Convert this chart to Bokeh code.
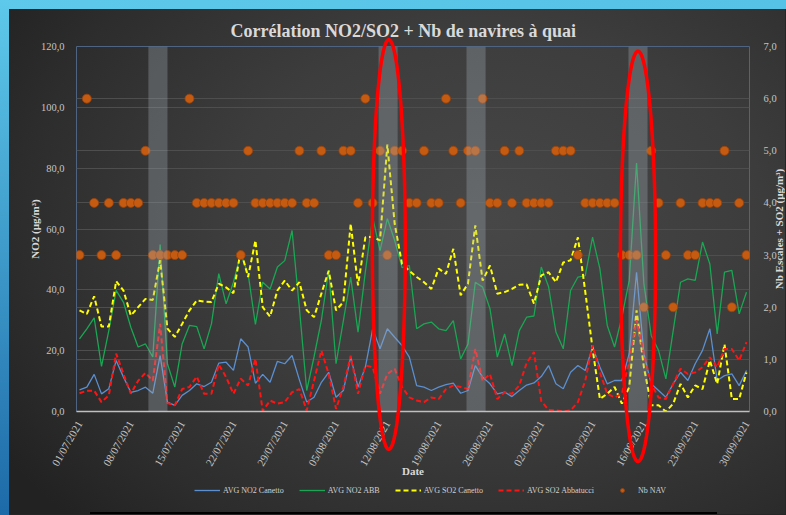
import numpy as np
from math import pi
from bokeh.plotting import figure
from bokeh.models import (Range1d, LinearAxis, FixedTicker, Grid, Legend, LegendItem,
                          PolyAnnotation, ColumnDataSource)
from bokeh.core.properties import value
from bokeh.embed import file_html
from bokeh.resources import INLINE

# ---------------- data ----------------
tick_labels = ["01/07/2021", "08/07/2021", "15/07/2021", "22/07/2021", "29/07/2021",
               "05/08/2021", "12/08/2021", "19/08/2021", "26/08/2021", "02/09/2021",
               "09/09/2021", "16/09/2021", "23/09/2021", "30/09/2021"]
day = list(range(92))  # 01/07/2021 .. 30/09/2021

no2_canetto = [7.1, 8.0, 12.2, 5.8, 7.5, 16.8, 11.3, 6.3, 6.9, 8.0,
               6.0, 18.4, 3.1, 2.0, 5.3, 6.9, 9.1, 8.2, 9.6, 15.9,
               16.2, 13.5, 23.9, 21.2, 9.3, 12.2, 9.6, 16.5, 15.7, 18.4,
               10.4, 3.1, 4.7, 9.6, 12.9, 4.7, 6.9, 17.9, 8.0, 14.6,
               27.2, 20.6, 27.2, 24.4, 21.7, 17.9, 8.5, 8.0, 6.9, 8.0,
               8.8, 9.3, 6.0, 6.9, 15.1, 11.3, 9.1, 5.8, 6.4, 4.9,
               6.9, 8.7, 9.4, 11.5, 15.1, 9.1, 7.5, 12.9, 15.1, 13.5,
               21.2, 14.6, 9.1, 10.2, 10.2, 19.0, 45.8, 19.0, 9.1, 6.9,
               4.7, 9.1, 12.9, 10.2, 15.7, 20.1, 27.2, 10.2, 11.8, 12.4,
               8.5, 13.5]

no2_abb = [23.9, 27.2, 30.8, 14.8, 26.6, 39.8, 35.9, 27.7, 21.2, 22.2,
           17.9, 54.9, 15.7, 8.0, 22.2, 28.3, 27.9, 20.6, 28.8, 45.3,
           35.4, 42.5, 51.8, 45.3, 28.6, 42.5, 40.3, 47.5, 49.6, 59.5,
           34.0, 6.9, 18.0, 30.0, 46.4, 15.7, 29.9, 44.2, 26.1, 46.0,
           63.8, 52.9, 63.4, 56.2, 47.3, 48.0, 27.2, 28.8, 29.4, 27.2,
           26.6, 29.9, 17.3, 22.2, 42.5, 40.9, 33.8, 17.9, 25.5, 15.1,
           26.6, 31.0, 31.4, 47.5, 41.0, 26.1, 20.6, 39.8, 44.2, 44.7,
           57.3, 46.9, 28.3, 21.2, 31.0, 43.1, 81.7, 42.0, 25.0, 20.1,
           10.7, 26.6, 42.5, 43.6, 43.1, 55.7, 48.5, 25.5, 45.8, 46.4,
           32.1, 39.2]

so2_canetto = [1.94, 1.87, 2.21, 1.63, 1.63, 2.50, 2.32, 1.84, 2.00, 2.16,
               2.14, 2.90, 1.59, 1.43, 1.68, 1.94, 2.13, 2.11, 2.10, 2.45,
               2.38, 2.27, 3.09, 2.58, 3.28, 2.00, 1.82, 2.32, 2.51, 2.32,
               2.48, 1.94, 1.81, 2.26, 2.70, 1.94, 2.10, 3.60, 2.42, 3.34,
               3.35, 3.28, 5.12, 3.60, 2.83, 2.70, 2.58, 2.48, 2.35, 2.74,
               2.64, 3.12, 2.23, 2.45, 3.57, 2.51, 2.80, 2.26, 2.29, 2.35,
               2.43, 2.44, 2.07, 2.61, 2.67, 2.48, 2.86, 2.90, 3.34, 2.30,
               1.20, 0.24, 0.34, 0.47, 0.15, 0.47, 1.94, 0.85, 0.12, 0.12,
               0.00, 0.15, 0.53, 0.27, 0.50, 0.43, 0.98, 0.53, 1.29, 0.24,
               0.24, 0.75]

so2_abbatucci = [0.35, 0.40, 0.40, 0.18, 0.31, 1.11, 0.72, 0.34, 0.59, 0.74,
                 0.59, 1.68, 0.16, 0.12, 0.43, 0.47, 0.67, 0.34, 0.34, 0.90,
                 0.66, 0.34, 0.63, 0.50, 1.01, 0.01, 0.21, 0.15, 0.18, 0.37,
                 0.43, 0.02, 0.59, 1.17, 0.72, 0.05, 0.47, 1.07, 0.34, 0.88,
                 0.85, 0.34, 0.72, 0.82, 0.47, 0.27, 0.21, 0.18, 0.27, 0.24,
                 0.43, 0.50, 0.47, 0.43, 1.20, 0.59, 0.72, 0.24, 0.37, 0.34,
                 0.50, 0.93, 1.14, 0.20, 0.03, 0.02, 0.00, 0.02, 0.18, 0.59,
                 1.27, 0.75, 0.34, 0.27, 0.34, 0.98, 1.75, 1.11, 0.53, 0.27,
                 0.24, 0.53, 0.82, 0.72, 0.75, 0.85, 1.04, 0.85, 1.20, 1.20,
                 0.98, 1.33]

nb_nav = [3, 6, 4, 3, 4, 3, 4, 4, 4, 5,
          3, 3, 3, 3, 3, 6, 4, 4, 4, 4,
          4, 4, 3, 5, 4, 4, 4, 4, 4, 4,
          5, 4, 4, 5, 3, 3, 5, 5, 4, 6,
          4, 5, 3, 5, 5, 4, 4, 5, 4, 4,
          6, 5, 4, 5, 5, 6, 4, 4, 5, 4,
          5, 4, 4, 4, 4, 5, 5, 5, 3, 4,
          4, 4, 4, 4, 3, 3, 3, 2, 5, 4,
          3, 2, 4, 3, 3, 4, 4, 4, 5, 2,
          4, 3]

# highlighted periods (day index from 01/07/2021)
band_start = [9.4, 40.8, 52.8, 74.9]
band_end = [12.0, 43.4, 55.4, 77.5]

# hand-drawn red ellipses (centre day, centre NO2 value, width in days, height in NO2 units)
ell_day = [42.2, 76.2]
ell_no2 = [54.9, 51.0]
ell_w = [4.5, 4.8]
ell_h = [134.7, 134.9]

# ---------------- layout constants ----------------
W, H = 776, 505
FL, FR, FT = 67, 36, 37
FW, FH = 673, 365
FB = H - FT - FH
X0, X1 = -0.41, 91.41
Y0, Y1 = 0.0, 120.0
R0, R1 = 0.0, 7.0

FONT = "Liberation Serif"
TXT = "#d9d9d9"
TICK = "#c4c4c4"

src = ColumnDataSource(dict(day=day, no2_canetto=no2_canetto, no2_abb=no2_abb,
                            so2_canetto=so2_canetto, so2_abbatucci=so2_abbatucci,
                            nb_nav=nb_nav))

SERIES = [
    ("AVG NO2 Canetto", "line", "no2_canetto", "default",
     dict(line_color="#5b8fd0", line_width=1.3)),
    ("AVG NO2 ABB", "line", "no2_abb", "default",
     dict(line_color="#1aa653", line_width=1.3)),
    ("AVG SO2 Canetto", "line", "so2_canetto", "right",
     dict(line_color="#ffff00", line_width=2, line_dash="5 3")),
    ("AVG SO2 Abbatucci", "line", "so2_abbatucci", "right",
     dict(line_color="#ff1414", line_width=2, line_dash="5 3")),
    ("Nb NAV", "scatter", "nb_nav", "right",
     dict(size=9, fill_color="#c55a11", line_color="#9c430a", line_width=0.8)),
]

# ---------------- main figure ----------------
p = figure(frame_width=FW, frame_height=FH,
           x_range=Range1d(X0, X1), y_range=Range1d(Y0, Y1),
           output_backend="svg", toolbar_location=None,
           min_border_left=FL, min_border_right=FR,
           min_border_top=FT, min_border_bottom=FB)
p.extra_y_ranges = {"right": Range1d(R0, R1)}

p.background_fill_alpha = 0
p.border_fill_alpha = 0
p.styles = {"background": "linear-gradient(#000,#000) 81px 503px/627px 3px no-repeat, "
                          "radial-gradient(ellipse 75% 85% at 62% 42%, #474747 0%, "
                          "#3d3d3d 45%, #2d2d2d 80%, #222222 100%)"}
p.outline_line_color = "#4f6480"
p.outline_line_width = 1

p.title.text = "Corrélation NO2/SO2 + Nb de navires à quai"
p.title.align = "left"
p.title.offset = 154
p.title.text_font = FONT
p.title.text_font_size = "18px"
p.title.text_font_style = "bold"
p.title.text_color = TXT
p.title.standoff = 12

# grids
p.xgrid.visible = False
p.ygrid.ticker = FixedTicker(ticks=[20, 40, 60, 80, 100])
p.ygrid.grid_line_color = "#4e4e4e"
rgrid = Grid(dimension=1, ticker=FixedTicker(ticks=[1, 2, 3, 4, 5, 6]),
             y_range_name="right", grid_line_color="#4e4e4e")
p.add_layout(rgrid)

# series
for name, kind, col, rng, sty in SERIES:
    getattr(p, kind)("day", col, source=src, y_range_name=rng, **sty)

# highlighted bands
p.quad(left=band_start, right=band_end, bottom=Y0, top=Y1,
       fill_color="#a5adb5", fill_alpha=0.33, line_alpha=0)

# axes
xa = p.xaxis[0]
xa.ticker = FixedTicker(ticks=[7 * i for i in range(len(tick_labels))])
xa.major_label_overrides = {7 * i: lab for i, lab in enumerate(tick_labels)}
xa.major_label_orientation = pi / 3
xa.axis_label = "Date"
xa.axis_line_color = "#bfbfbf"
xa.axis_line_width = 1.5
xa.major_label_standoff = 4
xa.axis_label_standoff = -9

ya = p.yaxis[0]
ya.ticker = FixedTicker(ticks=[0, 20, 40, 60, 80, 100, 120])
ya.major_label_overrides = {v: f"{v},0" for v in range(0, 121, 20)}
ya.axis_label = "NO2 (µg/m³)"
ya.axis_line_alpha = 0
ya.major_label_standoff = 6
ya.axis_label_standoff = -3

ra = LinearAxis(y_range_name="right", ticker=FixedTicker(ticks=list(range(8))))
ra.major_label_overrides = {k: f"{k},0" for k in range(8)}
ra.axis_line_alpha = 0
ra.major_label_standoff = 8
p.add_layout(ra, "right")

for ax in (xa, ya, ra):
    ax.major_label_text_font = FONT
    ax.major_label_text_font_size = "10.5px"
    ax.major_label_text_color = TICK
    ax.major_tick_line_alpha = 0
    ax.minor_tick_line_alpha = 0
    ax.axis_label_text_font = FONT
    ax.axis_label_text_font_size = "11px"
    ax.axis_label_text_font_style = "bold"
    ax.axis_label_text_color = TXT
xa.major_label_text_font_size = "11px"

# ---------------- transparent overlay: whole canvas as frame, same data mapping ----------------
pxd = FW / (X1 - X0)
pyu = FH / (Y1 - Y0)
pyr = FH / (R1 - R0)
q = figure(width=W, height=H,
           x_range=Range1d(X0 - FL / pxd, X1 + FR / pxd),
           y_range=Range1d(Y0 - FB / pyu, Y1 + FT / pyu),
           output_backend="svg", toolbar_location=None,
           x_axis_location=None, y_axis_location=None,
           min_border_left=0, min_border_right=0, min_border_top=0, min_border_bottom=0)
q.extra_y_ranges = {"right": Range1d(R0 - FB / pyr, R1 + FT / pyr)}
q.title.visible = False
q.grid.visible = False
q.outline_line_color = None
q.background_fill_alpha = 0
q.border_fill_alpha = 0
q.styles = {"position": "absolute", "left": "9px", "top": "9px"}

# hand-drawn red ellipses (they run beyond the plot area)
t = np.linspace(0, 2 * pi, 160)
for cx, cy, w, h in zip(ell_day, ell_no2, ell_w, ell_h):
    q.add_layout(PolyAnnotation(xs=(cx + w / 2 * np.cos(t)).tolist(),
                                ys=(cy + h / 2 * np.sin(t)).tolist(),
                                fill_color=None, line_color="#ff0000",
                                line_alpha=1.0, line_width=3.5))

# right axis title, reading bottom to top
q.text(x=[X1 + 29 / pxd], y=[(Y0 + Y1) / 2], text=["Nb Escales + SO2 (µg/m³)"],
       angle=pi / 2, text_align="center", text_baseline="middle",
       text_font=value(FONT), text_font_size="11px", text_font_style="bold",
       text_color=TXT)

# legend under the chart (keys come from hidden twins of the series)
items = []
for name, kind, col, rng, sty in SERIES:
    sty = dict(sty, size=7) if kind == "scatter" else sty
    r = getattr(q, kind)("day", col, source=src, y_range_name=rng, visible=False, **sty)
    items.append(LegendItem(label=name, renderers=[r]))
legend = Legend(items=items, orientation="horizontal", location=(185, 19))
legend.label_text_font = FONT
legend.label_text_font_size = "8px"
legend.label_text_color = "#d0d0d0"
legend.glyph_width = 26
legend.glyph_height = 10
legend.label_height = 10
legend.label_standoff = 3
legend.spacing = 15
legend.padding = 0
legend.margin = 0
legend.background_fill_alpha = 0
legend.border_line_alpha = 0
legend.inactive_fill_alpha = 0
q.add_layout(legend)

html = file_html([p, q], INLINE, title="Corrélation NO2/SO2 + Nb de navires à quai")
css = ("<style>html{min-height:100%;background:"
       "linear-gradient(to bottom,#5ec9ea,#1d6aa8) 0 0/9px 100% no-repeat,"
       "linear-gradient(to right,#5ec9ea,#55c2e6) 0 0/100% 9px no-repeat,"
       "#262626;} body{margin:0 !important;padding:9px 0 0 9px !important;"
       "background:transparent;}</style>")
html = html.replace("</head>", css + "</head>", 1)
open("out.html", "w").write(html)
